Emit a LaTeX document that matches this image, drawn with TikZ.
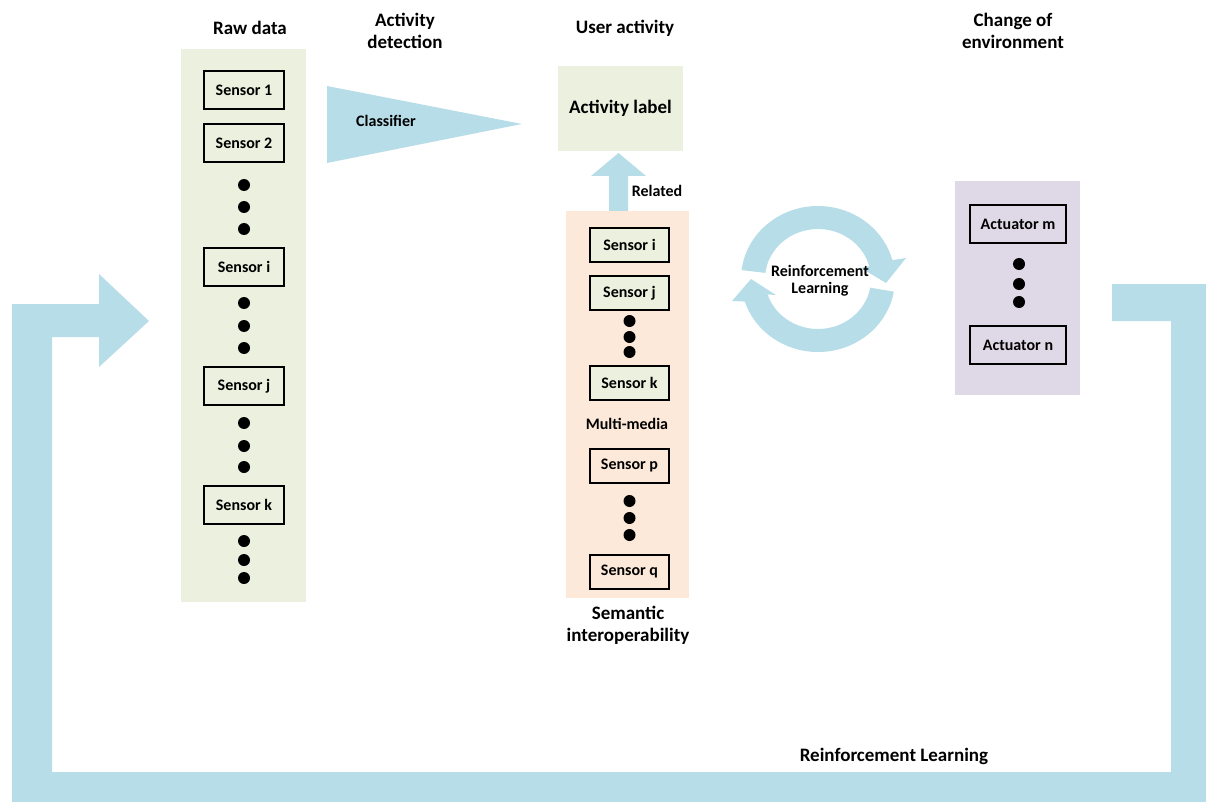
\documentclass[tikz,border=0pt]{standalone}
\usepackage{fontspec}
\setmainfont{Carlito}
\usetikzlibrary{calc}
\definecolor{lblue}{HTML}{B7DDE8}
\definecolor{lgreen}{HTML}{EBF1DE}
\definecolor{lorange}{HTML}{FDE9D9}
\definecolor{lpurple}{HTML}{DFD9E7}
\tikzset{
  sbox/.style={draw=black, line width=1.8pt, inner sep=0pt, minimum width=80pt, minimum height=38pt, font=\fontsize{16}{18}\selectfont\bfseries},
  obox/.style={sbox, minimum width=79pt, minimum height=34pt},
  abox/.style={sbox, minimum width=96pt},
  title/.style={font=\fontsize{19}{22}\selectfont\bfseries, align=center, inner sep=0pt},
  small/.style={font=\fontsize{16}{18}\selectfont\bfseries, align=center, inner sep=0pt},
  dotc/.style={fill=black},
}
\begin{document}
\begin{tikzpicture}[x=1pt,y=-1pt]
\useasboundingbox (0,0) rectangle (1206,802);
% panels
\fill[lgreen] (181,49) rectangle (306,602);
\fill[lorange] (566,211) rectangle (689,598);
\fill[lpurple] (955,181) rectangle (1080,395);
% titles
\node[title] (traw) at (250,28) {Raw data};
\node[title] (tdet) at (405,31) {Activity\\detection};
\node[title] (tuser) at (625,28) {User activity};
\node[title] (tenv) at (1013,31) {Change of\\environment};
\node[title] (tsem) at (628,625) {Semantic\\interoperability};
% left sensors
\node[sbox] (s1) at (244,90) {Sensor 1};
\node[sbox] (s2) at (244,143) {Sensor 2};
\node[sbox] (si) at (244,267) {Sensor i};
\node[sbox] (sj) at (244,386) {Sensor j};
\node[sbox] (sk) at (244,505) {Sensor k};
\foreach \y in {185,207,229,303,326,348,423,446,467,541,560,578}
  \fill[dotc] (244,\y) circle (6pt);
% classifier
\fill[lblue] (327,86) -- (522,124) -- (327,163) -- cycle;
\node[small] (cls) at (386,121) {Classifier};
% activity label
\node[fill=lgreen, minimum width=125pt, minimum height=85pt, inner sep=0pt, font=\fontsize{19}{22}\selectfont\bfseries] (act) at (620.5,108.5) {Activity label};
% related arrow
\fill[lblue] (609,211) -- (609,176) -- (591,176) -- (618.5,153) -- (646,176) -- (628,176) -- (628,211) -- cycle;
\node[small] (rel) at (657,191) {Related};
% orange sensors
\node[obox, fill=lgreen] (oi) at (629.5,245) {Sensor i};
\node[obox, fill=lgreen] (oj) at (629.5,293) {Sensor j};
\node[obox, fill=lgreen] (ok) at (629.5,383) {Sensor k};
\node[small] (mm) at (627,424) {Multi-media};
\node[obox] (op) at (629.5,466) {Sensor p};
\node[obox] (oq) at (629.5,572) {Sensor q};
\foreach \y in {321,337,352,501,518,535}
  \fill[dotc] (629.5,\y) circle (6pt);
% cycle
\coordinate (c) at (818,279);
\fill[lblue] ($(c)+(173:77pt and 73pt)$) arc[start angle=173, end angle=15, x radius=77pt, y radius=73pt]
  -- (906,258) -- (886,283) -- (861,268) -- ($(c)+(15:53pt and 50pt)$)
  arc[start angle=15, end angle=173, x radius=53pt, y radius=50pt] -- cycle;
\fill[lblue] ($(c)+(-10:77pt and 73pt)$) arc[start angle=-10, end angle=-162, x radius=77pt, y radius=73pt]
  -- (732,301) -- (751,279) -- (776,295) -- ($(c)+(-162:53pt and 50pt)$)
  arc[start angle=-162, end angle=-10, x radius=53pt, y radius=50pt] -- cycle;
\node[small] (rl) at (820,281) {Reinforcement\\[-1pt]Learning};
% actuators
\node[abox] (am) at (1018,224) {Actuator m};
\node[abox] (an) at (1018,345) {Actuator n};
\foreach \y in {264,284,302}
  \fill[dotc] (1019,\y) circle (6pt);
% big loop
\fill[lblue] (1112,284) -- (1206,284) -- (1206,802) -- (12,802) -- (12,304) -- (99,304) -- (99,274)
  -- (149,321) -- (99,367) -- (99,337) -- (52,337) -- (52,772) -- (1171,772) -- (1171,321) -- (1112,321) -- cycle;
\node[title] (rlb) at (894,756) {Reinforcement Learning};
\end{tikzpicture}
\end{document}
